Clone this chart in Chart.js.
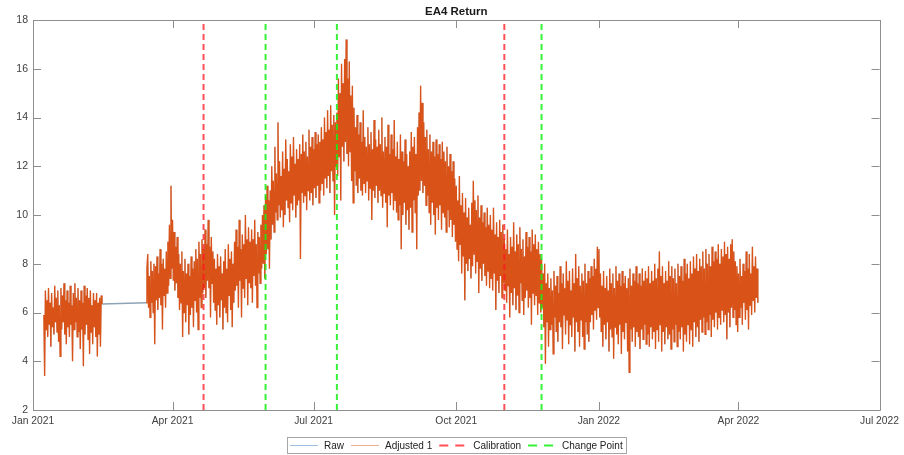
<!DOCTYPE html>
<html>
<head>
<meta charset="utf-8">
<title>EA4 Return</title>
<script src="https://cdn.jsdelivr.net/npm/chart.js@4.4.1/dist/chart.umd.min.js"></script>
<style>
  html, body { margin: 0; padding: 0; background: #ffffff; }
  #c { display: block; }
</style>
</head>
<body>
<canvas id="c" width="904" height="455"></canvas>
<script>
// Time axis is measured in days since 1 Jan 2021.
const tickDays = [0, 90, 181, 273, 365, 455, 546];
const tickLabels = ['Jan 2021', 'Apr 2021', 'Jul 2021', 'Oct 2021', 'Jan 2022', 'Apr 2022', 'Jul 2022'];
const yTicks = [2, 4, 6, 8, 10, 12, 14, 16, 18];

const calibrationDays = [110, 304];        // 21 Apr 2021, 1 Nov 2021
const changePointDays = [150, 196, 328];   // 31 May 2021, 16 Jul 2021, 25 Nov 2021

// Return readings, two per day (00:00, 12:00)
const seg1Start = 7;   // 8 Jan 2021
const seg2Start = 73;  // 15 Mar 2021

const jan21 = [5.9,3.4, 6.9,5.3, 6.5,5.0, 7.0,5.5, 6.4,4.6, 6.8,5.4, 6.2,5.1, 7.1,5.6, 6.6,5.2, 6.9,4.8,
  6.3,4.2, 7.0,5.3, 6.7,5.6, 7.2,5.1, 6.5,4.7, 6.9,5.4, 6.4,5.0, 7.1,5.5, 6.3,4.0, 6.8,5.3,
  7.2,5.6, 6.6,5.0, 7.0,5.2, 6.5,4.5];
const feb21 = [6.9,5.3, 6.4,3.8, 7.1,5.1, 6.7,5.5, 7.0,4.9, 6.6,4.3, 6.9,5.2, 6.3,4.7, 6.8,5.4, 6.5,5.0,
  6.8,4.2, 6.4,5.1, 6.6,4.6, 6.7,6.35];

const mar21 = [6.4,7.8, 8.4,6.2, 7.5,5.8, 8.1,6.4, 7.7,6.0, 8.0,4.7, 7.9,6.5, 8.3,6.1, 7.6,6.6, 8.6,6.3,
  8.0,5.3, 8.2,6.7, 7.8,6.2, 8.5,6.8, 8.9,7.1, 9.6,7.4, 11.2,7.8];
const apr21 = [9.8,7.3, 9.3,6.9, 8.7,7.2, 9.1,6.6, 8.4,6.1, 8.0,6.4, 8.5,5.0, 7.7,6.0, 8.2,5.6, 7.6,6.3,
  8.0,5.1, 7.5,5.9, 8.3,6.2, 7.8,5.4, 8.1,6.5, 8.6,6.0, 8.2,5.3, 8.9,6.6, 8.4,6.2, 9.0,6.8,
  8.6,7.0, 9.4,6.6, 8.8,7.3, 9.8,7.0, 8.7,5.8, 9.1,7.2, 8.5,6.4, 8.2,6.1, 7.8,5.5, 8.4,6.3];
const may21 = [7.9,5.8, 8.3,6.5, 7.6,5.3, 8.1,6.2, 8.6,6.0, 7.8,5.6, 8.8,6.7, 8.2,6.1, 8.5,5.4, 8.0,6.4,
  8.9,6.9, 9.4,7.1, 8.7,6.2, 9.8,7.3, 8.6,5.8, 9.2,7.0, 8.8,6.6, 10.0,7.4, 9.0,6.3, 9.5,7.2,
  8.9,7.0, 9.4,6.4, 9.0,7.5, 9.8,7.1, 8.8,6.2, 9.3,7.6, 9.1,7.2, 9.6,7.8, 10.0,8.0, 10.4,7.4,
  10.8,8.4];
const jun21 = [11.2,8.6, 10.6,7.8, 11.0,9.0, 12.0,9.6, 11.4,9.3, 12.8,10.1, 11.7,9.8, 13.8,10.4, 12.2,9.9, 11.6,10.2,
  12.6,9.5, 11.9,10.0, 13.1,10.6, 12.3,10.3, 11.8,9.7, 12.9,10.5, 12.4,10.2, 13.2,10.8, 12.1,9.9, 12.7,10.4,
  12.3,10.6, 12.9,8.2, 12.5,10.9, 13.3,10.5, 12.6,10.8, 13.0,10.2, 12.4,11.0, 13.5,10.6, 12.8,10.9, 13.2,10.4];
const jul21 = [12.7,11.1, 13.4,10.7, 12.9,11.2, 13.3,10.5, 13.0,11.0, 13.6,11.3, 13.1,10.8, 14.0,11.5, 13.4,11.1, 14.3,11.6,
  13.5,10.9, 14.5,11.8, 13.7,11.4, 14.1,10.0, 13.8,12.0, 14.2,11.6, 15.6,12.4, 15.0,10.6, 16.2,12.8, 15.4,12.2,
  16.4,13.0, 17.2,12.5, 15.6,12.0, 16.3,12.6, 14.9,11.4, 15.3,10.5, 14.4,11.8, 13.6,11.2, 14.1,10.9, 13.3,11.5,
  13.8,11.0];
const aug21 = [13.0,10.8, 14.3,11.3, 13.2,10.9, 12.8,11.4, 13.6,10.6, 12.9,11.1, 13.4,9.8, 12.7,11.0, 13.9,10.7, 13.1,11.2,
  12.8,10.5, 13.5,11.0, 12.9,10.8, 14.0,10.3, 12.6,10.9, 13.2,10.5, 12.8,9.5, 13.7,10.8, 12.5,10.4, 13.3,10.9,
  12.7,10.2, 13.9,10.6, 12.4,10.1, 13.0,9.8, 12.3,10.4, 13.3,8.6, 12.6,10.0, 12.2,10.5, 13.1,9.6, 12.5,10.2,
  12.0,9.4];
const sep21 = [12.6,10.3, 13.4,9.3, 12.8,10.6, 13.2,10.1, 12.5,8.6, 13.6,10.8, 14.2,11.0, 15.3,11.4, 14.6,10.9, 13.8,11.2,
  13.2,10.4, 13.5,10.8, 12.7,10.1, 13.3,9.6, 12.6,10.5, 13.0,10.0, 12.4,9.2, 13.1,10.3, 12.5,9.8, 12.9,10.4,
  12.3,9.4, 13.0,10.1, 12.6,9.9, 12.2,9.3, 12.8,10.2, 12.0,9.5, 12.5,9.8, 11.8,9.1, 12.2,9.6, 11.5,8.9];
const oct21 = [11.2,8.6, 10.6,8.1, 11.6,8.8, 10.4,7.6, 10.9,8.3, 10.1,6.5, 10.7,8.0, 9.9,7.7, 10.3,8.2, 9.6,7.4,
  10.5,7.9, 11.4,8.4, 10.6,7.6, 10.2,8.1, 10.8,6.8, 9.9,7.8, 10.4,7.3, 9.7,8.0, 10.1,7.5, 9.5,7.1,
  10.3,7.7, 9.6,7.0, 10.0,7.4, 9.4,6.9, 10.3,7.6, 9.2,6.1, 9.7,7.3, 9.1,6.8, 9.8,7.5, 9.3,6.6,
  9.6,7.2];
const nov21 = [9.0,6.9, 8.6,6.4, 9.4,7.1, 8.4,5.8, 9.1,6.8, 8.7,6.3, 9.7,7.0, 8.5,6.1, 9.2,6.7, 8.8,6.0,
  9.5,7.2, 8.6,6.5, 9.0,5.9, 8.3,6.6, 9.3,6.9, 8.7,6.2, 9.1,6.6, 8.5,5.5, 9.4,6.8, 8.8,6.3,
  9.2,6.7, 8.6,5.9, 8.9,6.4, 8.4,6.0, 8.2,6.2, 7.6,5.4, 8.0,3.9, 7.2,5.6, 7.6,4.6, 7.0,5.3];
const dec21 = [7.4,5.5, 6.9,4.3, 7.7,5.8, 7.1,5.2, 7.5,4.8, 6.8,5.6, 7.9,5.4, 7.2,4.5, 7.6,5.9, 7.0,5.1,
  8.1,5.7, 7.3,4.7, 7.7,5.5, 6.9,5.0, 7.8,5.8, 7.2,4.4, 8.4,5.6, 7.4,5.2, 7.9,4.6, 7.1,5.7,
  7.6,5.0, 7.3,4.5, 8.0,5.6, 7.2,5.1, 7.7,4.8, 7.4,5.6, 7.9,5.9, 7.5,5.3, 8.2,6.1, 7.8,5.7,
  8.7,6.2];
const jan22 = [8.6,5.8, 7.6,5.2, 7.1,4.6, 7.7,5.5, 7.0,4.9, 7.5,5.6, 6.9,4.4, 7.8,5.3, 7.2,5.0, 7.6,4.1,
  7.0,5.4, 7.9,5.1, 7.3,4.7, 7.6,5.5, 7.1,4.3, 7.7,5.2, 7.2,4.9, 7.5,5.6, 7.0,4.4, 7.4,3.55,
  7.8,5.3, 7.1,4.8, 7.6,5.4, 7.3,4.6, 7.9,5.2, 7.2,5.0, 7.6,4.5, 7.1,5.3, 7.8,4.9, 7.3,5.5,
  7.7,4.7];
const feb22 = [7.4,5.1, 7.9,4.6, 7.2,5.4, 7.7,4.9, 7.3,5.2, 8.0,4.5, 7.4,5.3, 7.8,4.8, 8.5,5.5, 7.5,4.4,
  7.9,5.2, 7.2,4.7, 7.7,5.4, 7.3,4.9, 8.1,5.1, 7.5,4.5, 7.9,5.3, 7.4,4.8, 7.8,5.5, 7.2,4.6,
  8.0,5.2, 7.5,4.9, 7.9,5.4, 7.3,4.4, 8.2,5.1, 7.6,4.8, 8.0,5.5, 7.4,4.7];
const mar22 = [8.1,5.3, 7.6,4.6, 8.3,5.6, 7.8,5.0, 8.4,5.4, 7.7,4.8, 8.2,5.7, 7.9,5.2, 8.5,5.8, 7.8,5.1,
  8.6,5.6, 8.0,5.3, 8.4,5.9, 7.9,5.0, 8.7,5.7, 8.1,5.4, 8.5,6.0, 8.2,5.3, 8.8,5.8, 8.0,5.5,
  8.6,6.1, 8.3,5.6, 8.9,5.9, 8.4,4.9, 8.7,6.0, 8.2,5.4, 8.8,6.2, 9.0,5.8, 8.5,6.1, 8.1,5.5,
  7.9,5.2];
const apr22 = [7.6,5.8, 8.2,6.2, 7.5,5.5, 8.0,6.4, 7.7,5.7, 8.5,6.1, 7.8,5.3, 8.4,6.3, 7.6,5.9, 8.7,6.5,
  7.9,6.0, 8.3,6.6, 7.8,6.4];

const seg1 = [].concat(jan21, feb21);
const seg2 = [].concat(mar21, apr21, may21, jun21, jul21, aug21, sep21, oct21, nov21, dec21, jan22, feb22, mar22, apr22);

function toPoints(vals, start) {
  return vals.map((v, i) => ({ x: start + i * 0.5, y: v }));
}
const seg1Pts = toPoints(seg1, seg1Start);
const seg2Pts = toPoints(seg2, seg2Start);
const gapX = (seg1Pts[seg1Pts.length - 1].x + seg2Start) / 2;

const adjustedPts = seg1Pts.concat([{ x: gapX, y: null }], seg2Pts);
const rawPts = seg1Pts.concat(seg2Pts);

function verticalLines(days) {
  const pts = [];
  days.forEach(d => { pts.push({ x: d, y: 2 }, { x: d, y: 18 }, { x: d, y: null }); });
  return pts;
}

const FONT = '"Liberation Sans", Arial, Helvetica, sans-serif';
const AXIS_COLOR = '#8e8e8e';
const TEXT_COLOR = '#404040';
const ORANGE = '#D95319';
const RAW_BLUE = '#8ea3b5';
const CAL_RED = 'rgba(255, 20, 30, 0.75)';
const CP_GREEN = 'rgba(20, 240, 20, 0.85)';

// Box, inward tick marks, title and legend
const framePlugin = {
  id: 'frame',
  afterDraw(chart) {
    const { ctx, chartArea: a, scales } = chart;
    const xs = scales.x, ys = scales.y;
    const tl = 8;
    ctx.save();
    ctx.strokeStyle = AXIS_COLOR;
    ctx.lineWidth = 1;
    ctx.beginPath();
    ctx.rect(Math.round(a.left) + 0.5, Math.round(a.top) + 0.5, Math.round(a.right - a.left), Math.round(a.bottom - a.top));
    ctx.stroke();
    ctx.beginPath();
    tickDays.forEach(d => {
      const px = Math.round(xs.getPixelForValue(d)) + 0.5;
      ctx.moveTo(px, a.bottom); ctx.lineTo(px, a.bottom - tl);
      ctx.moveTo(px, a.top); ctx.lineTo(px, a.top + tl);
    });
    yTicks.forEach(v => {
      const py = Math.round(ys.getPixelForValue(v)) + 0.5;
      ctx.moveTo(a.left, py); ctx.lineTo(a.left + tl, py);
      ctx.moveTo(a.right, py); ctx.lineTo(a.right - tl, py);
    });
    ctx.stroke();

    // title
    ctx.fillStyle = '#1a1a1a';
    ctx.font = 'bold 11.5px ' + FONT;
    ctx.textAlign = 'center';
    ctx.textBaseline = 'middle';
    ctx.fillText('EA4 Return', (a.left + a.right) / 2, 11.5);

    // legend
    const items = [
      { text: 'Raw', color: 'rgba(125,170,210,0.75)', width: 1, dash: [] },
      { text: 'Adjusted 1', color: 'rgba(217,83,25,0.45)', width: 1, dash: [] },
      { text: 'Calibration', color: CAL_RED, width: 2, dash: [9, 7] },
      { text: 'Change Point', color: CP_GREEN, width: 2, dash: [9, 7] }
    ];
    ctx.font = '10px ' + FONT;
    const sample = 28, gapA = 6, gapB = 7, padL = 3, padR = 3;
    let total = padL + padR;
    items.forEach((it, i) => { total += sample + gapA + ctx.measureText(it.text).width + (i < items.length - 1 ? gapB : 0); });
    const boxTop = 437, boxH = 16;
    const cx = (a.left + a.right) / 2;
    let x = Math.round(cx - total / 2);
    ctx.strokeStyle = '#a6a6a6';
    ctx.lineWidth = 1;
    ctx.setLineDash([]);
    ctx.strokeRect(x + 0.5, boxTop + 0.5, Math.round(total), boxH);
    const ly = boxTop + boxH / 2 + 0.5;
    x += padL;
    items.forEach(it => {
      ctx.beginPath();
      ctx.strokeStyle = it.color;
      ctx.lineWidth = it.width;
      ctx.setLineDash(it.dash);
      ctx.moveTo(x, ly); ctx.lineTo(x + sample, ly);
      ctx.stroke();
      ctx.setLineDash([]);
      x += sample + gapA;
      ctx.fillStyle = '#222222';
      ctx.textAlign = 'left';
      ctx.fillText(it.text, x, ly + 0.5);
      x += ctx.measureText(it.text).width + gapB;
    });
    ctx.restore();
  }
};

new Chart(document.getElementById('c'), {
  type: 'line',
  data: {
    datasets: [
      {
        label: 'Raw', data: rawPts, borderColor: RAW_BLUE, borderWidth: 0.5, pointRadius: 0, spanGaps: true, order: 3,
        // the long bridge across the missing weeks is the only visible part of the raw trace
        segment: { borderWidth: c => (c.p1.parsed.x - c.p0.parsed.x > 1 ? 1.6 : 0.4) }
      },
      { label: 'Adjusted 1', data: adjustedPts, borderColor: ORANGE, borderWidth: 1.35, pointRadius: 0, spanGaps: false, order: 2 },
      { label: 'Calibration', data: verticalLines(calibrationDays), borderColor: CAL_RED, borderWidth: 2, borderDash: [6, 4], pointRadius: 0, spanGaps: false, order: 1 },
      { label: 'Change Point', data: verticalLines(changePointDays), borderColor: CP_GREEN, borderWidth: 2, borderDash: [6, 4], pointRadius: 0, spanGaps: false, order: 0 }
    ]
  },
  options: {
    responsive: false,
    animation: false,
    devicePixelRatio: 1,
    layout: { padding: { left: 0, right: 23, top: 20, bottom: 0 } },
    plugins: { legend: { display: false }, tooltip: { enabled: false }, title: { display: false } },
    elements: { line: { tension: 0 } },
    scales: {
      x: {
        type: 'linear',
        min: 0,
        max: 546,
        grid: { display: false, drawTicks: false },
        border: { display: false },
        afterBuildTicks(s) { s.ticks = tickDays.map(v => ({ value: v })); },
        afterFit(s) { s.height = 45; },
        ticks: {
          autoSkip: false,
          maxRotation: 0,
          padding: 5,
          color: TEXT_COLOR,
          font: { family: FONT, size: 10.3 },
          callback(v) { const i = tickDays.indexOf(v); return i >= 0 ? tickLabels[i] : ''; }
        }
      },
      y: {
        type: 'linear',
        min: 2,
        max: 18,
        grid: { display: false, drawTicks: false },
        border: { display: false },
        afterBuildTicks(s) { s.ticks = yTicks.map(v => ({ value: v })); },
        afterFit(s) { s.width = 33; },
        ticks: { padding: 5, color: TEXT_COLOR, font: { family: FONT, size: 10.5 } }
      }
    }
  },
  plugins: [framePlugin]
});
</script>
</body>
</html>
